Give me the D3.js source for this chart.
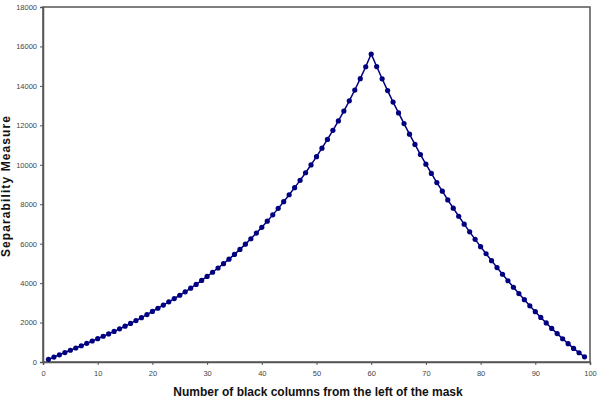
<!DOCTYPE html>
<html>
<head>
<meta charset="utf-8">
<script src="https://cdn.jsdelivr.net/npm/d3@7"></script>
<style>
  html, body { margin: 0; padding: 0; background: #fff; }
  svg { display: block; }
</style>
</head>
<body>
<svg id="chart" width="599" height="400"></svg>
<script>
const columns = d3.range(1, 100);
const separability = [
  135, 250, 365, 480, 595, 710, 825, 945, 1065, 1185,
  1305, 1425, 1550, 1680, 1815, 1955, 2100, 2250, 2405, 2565,
  2725, 2885, 3050, 3215, 3385, 3560, 3745, 3935, 4135, 4340,
  4550, 4765, 4985, 5215, 5455, 5710, 5975, 6250, 6535, 6830,
  7140, 7460, 7790, 8130, 8480, 8840, 9210, 9595, 9995, 10410,
  10840, 11285, 11745, 12225, 12725, 13245, 13790, 14365, 14970, 15617,
  14980, 14360, 13760, 13180, 12630, 12090, 11550, 11030, 10520, 10030,
  9560, 9100, 8660, 8220, 7800, 7390, 6990, 6600, 6220, 5850,
  5490, 5140, 4790, 4450, 4120, 3790, 3470, 3160, 2850, 2550,
  2260, 1980, 1700, 1440, 1180, 930, 690, 470, 260
];
const xTicks = [0, 10, 20, 30, 40, 50, 60, 70, 80, 90, 100];
const yTicks = [0, 2000, 4000, 6000, 8000, 10000, 12000, 14000, 16000, 18000];
const xTitle = "Number of black columns from the left of the mask";
const yTitle = "Separability Measure";

const data = columns.map((c, i) => ({x: c, y: separability[i]}));

const svg = d3.select("#chart");
const mLeft = 43, mRight = 590, mTop = 7, mBottom = 362;

const x = d3.scaleLinear().domain([0, 100]).range([mLeft, mRight]);
const y = d3.scaleLinear().domain([0, 18000]).range([mBottom, mTop]);

// frame
svg.append("rect")
  .attr("x", mLeft).attr("y", mTop)
  .attr("width", mRight - mLeft).attr("height", mBottom - mTop)
  .attr("fill", "none").attr("stroke", "#555").attr("stroke-width", 1.5);

const xAxis = svg.append("g")
  .attr("transform", `translate(0,${mBottom})`)
  .call(d3.axisBottom(x).tickValues(xTicks).tickSize(3).tickPadding(6).tickFormat(d3.format("d")));
const yAxis = svg.append("g")
  .attr("transform", `translate(${mLeft},0)`)
  .call(d3.axisLeft(y).tickValues(yTicks).tickSize(3).tickPadding(3).tickFormat(d3.format("d")));

[xAxis, yAxis].forEach(g => {
  g.select(".domain").attr("stroke", "#555").attr("stroke-width", 1.5);
  g.selectAll(".tick line").attr("stroke", "#555");
  g.selectAll(".tick text")
    .attr("fill", "#444")
    .style("font-family", "'Liberation Sans', Arial, sans-serif")
    .style("font-size", "7.5px");
});

// line
svg.append("path")
  .datum(data)
  .attr("fill", "none")
  .attr("stroke", "#000080")
  .attr("stroke-width", 1.5)
  .attr("d", d3.line().x(d => x(d.x)).y(d => y(d.y)));

// markers
svg.append("g").selectAll("circle")
  .data(data)
  .join("circle")
  .attr("cx", d => x(d.x))
  .attr("cy", d => y(d.y))
  .attr("r", 2.6)
  .attr("fill", "#000080");

// axis titles
svg.append("text")
  .attr("x", 318).attr("y", 396)
  .attr("text-anchor", "middle")
  .style("font-family", "'Liberation Sans', Arial, sans-serif")
  .style("font-size", "12px")
  .style("font-weight", "bold")
  .attr("fill", "#111")
  .text(xTitle);

svg.append("text")
  .attr("transform", "translate(10,186) rotate(-90)")
  .attr("text-anchor", "middle")
  .style("font-family", "'Liberation Sans', Arial, sans-serif")
  .style("font-size", "12px")
  .style("font-weight", "bold")
  .style("letter-spacing", "1.1px")
  .attr("fill", "#111")
  .text(yTitle);
</script>
</body>
</html>
